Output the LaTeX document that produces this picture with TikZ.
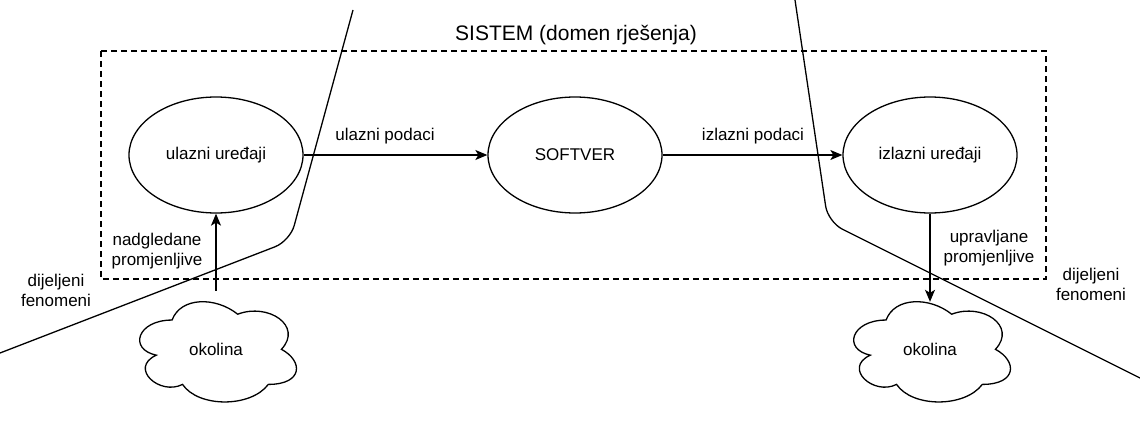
\documentclass[tikz,border=0pt]{standalone}
\usepackage{fontspec}
\setmainfont{Liberation Sans}
\usetikzlibrary{shapes.geometric,arrows.meta}
\tikzset{
  ell/.style={ellipse,draw,line width=1.3pt,minimum width=174pt,minimum height=116pt,inner sep=0pt,font=\fontsize{17}{20}\selectfont},
  cloudbox/.style={minimum width=175pt,minimum height=117pt,inner sep=0pt,font=\fontsize{17}{20}\selectfont},
  lbl/.style={font=\fontsize{17}{20}\selectfont,align=center,inner sep=0pt},
  flow/.style={line width=1.3pt,-{Stealth[length=12pt,width=10pt,inset=3pt]}},
  bound/.style={line width=1.3pt,rounded corners=16pt},
  sysbox/.style={draw,line width=1.3pt,dash pattern=on 6pt off 4pt}
}
\newcommand{\mycloud}[1]{%
  \begin{scope}[shift={(#1.north west)}]
    \draw[line width=1.3pt]
      (0.25*175,0.25*117)
      .. controls (0.05*175,0.25*117) and (0,0.5*117) .. (0.16*175,0.55*117)
      .. controls (0,0.66*117) and (0.18*175,0.9*117) .. (0.31*175,0.8*117)
      .. controls (0.4*175,117) and (0.7*175,117) .. (0.8*175,0.8*117)
      .. controls (175,0.8*117) and (175,0.6*117) .. (0.875*175,0.5*117)
      .. controls (175,0.3*117) and (0.8*175,0.1*117) .. (0.625*175,0.2*117)
      .. controls (0.5*175,0.05*117) and (0.3*175,0.05*117) .. cycle;
  \end{scope}}
\begin{document}
\begin{tikzpicture}[x=1pt,y=-1pt]
\useasboundingbox (0,0) rectangle (1140,428);
% system box
\draw[sysbox] (101,51) rectangle (1046,279);
\node[lbl,font=\fontsize{21}{24}\selectfont] (title) at (576,35) {SISTEM (domen rješenja)};
% ellipses
\node[ell] (ul) at (216,155) {ulazni uređaji};
\node[ell] (sw) at (575,155) {SOFTVER};
\node[ell] (iz) at (930,155) {izlazni uređaji};
% clouds
\node[cloudbox] (cloudL) at (216,349.5) {okolina};
\node[cloudbox] (cloudR) at (930,349.5) {okolina};
\mycloud{cloudL}
\mycloud{cloudR}
\coordinate (cRtop) at ([yshift=-11pt]cloudR.north);
% connectors
\draw[flow] (ul) -- (sw);
\draw[flow] (sw) -- (iz);
\draw[flow] (cloudL.north) -- (ul.south);
\draw[flow] (iz.south) -- (cRtop);
% labels
\node[lbl] (lup) at (385,136) {ulazni podaci};
\node[lbl] (lip) at (753,136) {izlazni podaci};
\node[lbl] (lnp) at (157,251) {nadgledane\\promjenljive};
\node[lbl] (lvp) at (989,248) {upravljane\\promjenljive};
\node[lbl] (ldl) at (56,290) {dijeljeni\\fenomeni};
\node[lbl] (ldr) at (1091,284) {dijeljeni\\fenomeni};
% boundary lines
\draw[bound] (353,10) -- (290,241) -- (0,353);
\draw[bound] (795,0) -- (828,222) -- (1140,378);
\end{tikzpicture}
\end{document}
